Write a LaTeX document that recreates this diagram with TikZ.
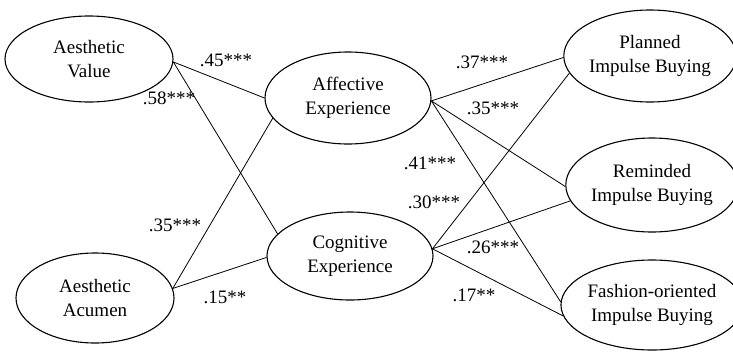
\documentclass[tikz,border=0pt]{standalone}
\usepackage{fontspec}
\setmainfont{Liberation Serif}
\usetikzlibrary{shapes.geometric}
\tikzset{
  construct/.style={draw, ellipse, line width=1.1pt, inner sep=0pt, align=center,
    font=\fontsize{19}{24}\selectfont},
  path/.style={line width=0.8pt},
  coef/.style={font=\fontsize{19}{24}\selectfont, inner sep=0pt}
}
\begin{document}
\begin{tikzpicture}[x=1pt, y=-1pt]
\useasboundingbox (0,0) rectangle (733,351);
% constructs
\node[construct, minimum width=168pt, minimum height=86pt] (av) at (89,59) {Aesthetic\\Value};
\node[construct, minimum width=158pt, minimum height=90pt] (acu) at (95,298) {Aesthetic\\Acumen};
\node[construct, minimum width=166pt, minimum height=92pt] (aff) at (348,98) {Affective\\Experience};
\node[construct, minimum width=166pt, minimum height=88pt] (cog) at (350,256) {Cognitive\\Experience};
\node[construct, minimum width=162pt, minimum height=92pt] (pib) at (650,56) {Planned\\Impulse Buying};
\node[construct, minimum width=160pt, minimum height=94pt] (rib) at (652,185) {Reminded\\Impulse Buying};
\node[construct, minimum width=160pt, minimum height=90pt] (fib) at (652,305) {Fashion-oriented\\Impulse Buying};
% paths
\draw[path] (av.-2) -- (aff.west);
\draw[path] (av.-2) -- (cog.163);
\draw[path] (acu.7) -- (aff.195);
\draw[path] (acu.7) -- (cog.181);
\draw[path] (aff.-2) -- (pib.181);
\draw[path] (aff.-2) -- (rib.181);
\draw[path] (aff.-2) -- (fib.178);
\draw[path] (cog.5) -- (pib.192);
\draw[path] (cog.5) -- (rib.191);
\draw[path] (cog.5) -- (fib.187);
% coefficients
\node[coef] (c1) at (226,60) {.45***};
\node[coef] (c2) at (169,98) {.58***};
\node[coef] (c3) at (175,225) {.35***};
\node[coef] (c4) at (225,297) {.15**};
\node[coef] (c5) at (482,62) {.37***};
\node[coef] (c6) at (493,108) {.35***};
\node[coef] (c7) at (430,163) {.41***};
\node[coef] (c8) at (434,202) {.30***};
\node[coef] (c9) at (493,247) {.26***};
\node[coef] (c10) at (474,295) {.17**};
\end{tikzpicture}
\end{document}
